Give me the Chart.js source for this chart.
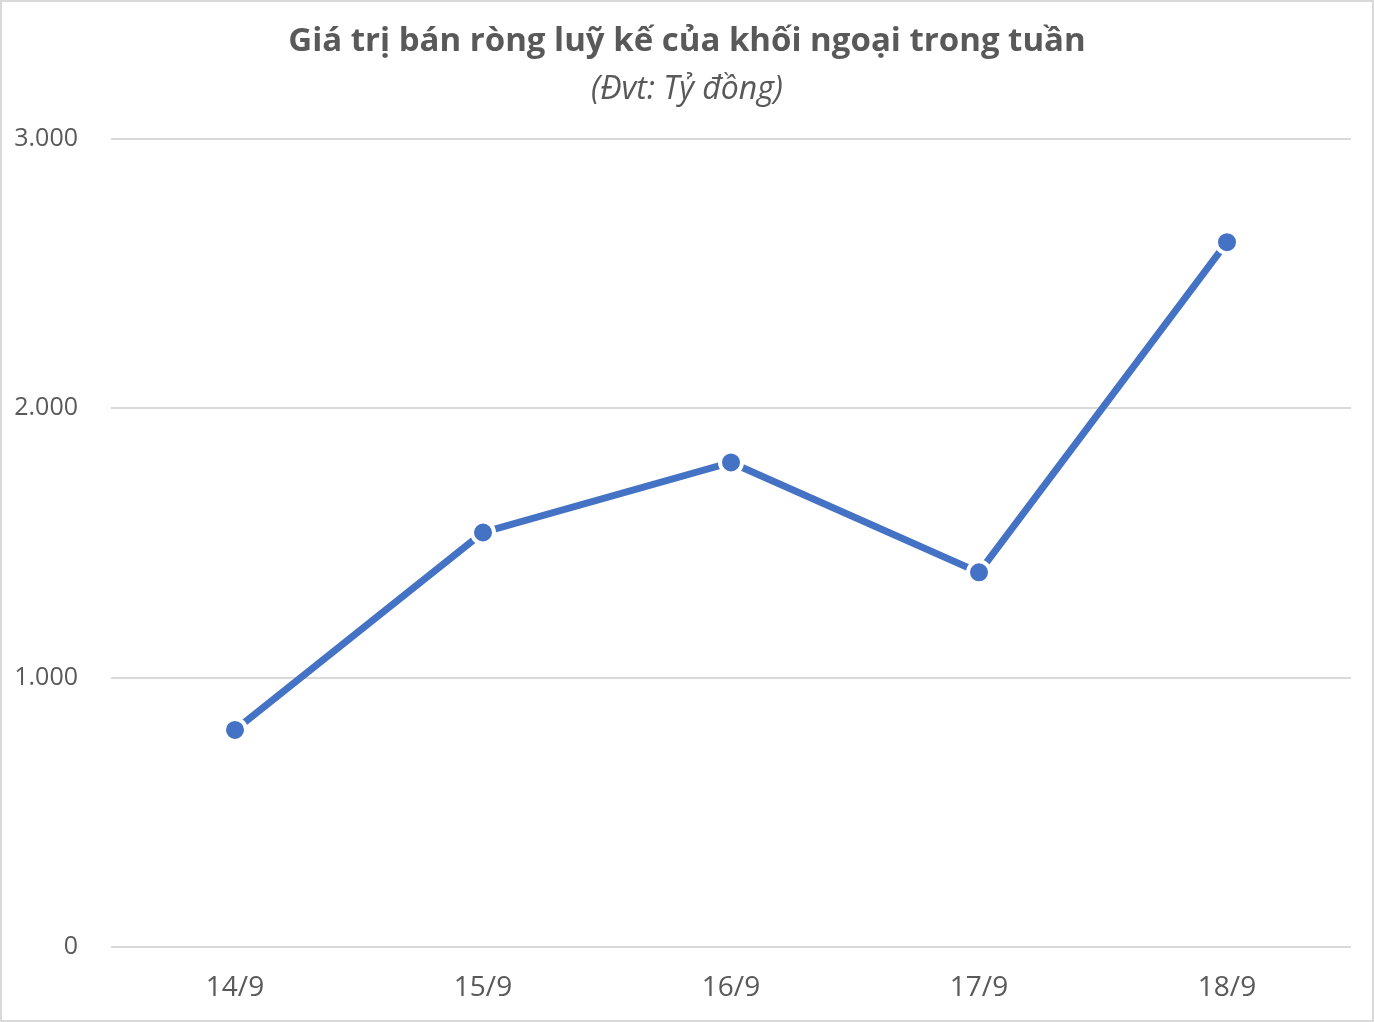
<!DOCTYPE html>
<html>
<head>
<meta charset="utf-8">
<script src="https://cdn.jsdelivr.net/npm/chart.js@4/dist/chart.umd.min.js"></script>
<style>
  html, body { margin: 0; padding: 0; background: #fff; }
  #frame {
    width: 1374px; height: 1022px; box-sizing: border-box;
    border: 2px solid #d9d9d9; background: #fff;
  }
  #frame canvas { display: block; }
</style>
</head>
<body>
<div id="frame">
  <canvas id="netSellChart" width="1370" height="1018"></canvas>
</div>
<script>
// data
const days = ["14/9", "15/9", "16/9", "17/9", "18/9"];
const netSellValues = [806, 1539, 1799, 1391, 2617];
const yTicks = [0, 1000, 2000, 3000];

const titleText = "Giá trị bán ròng luỹ kế của khối ngoại trong tuần";
const subtitleText = "(Đvt: Tỷ đồng)";

const textGrey = "#595959";
const lineBlue = "#4472C4";
const fontFamily = "'Open Sans', 'Noto Sans', sans-serif";

function formatThousands(v) {
  return v.toLocaleString("de-DE");
}

const ctx = document.getElementById("netSellChart").getContext("2d");

new Chart(ctx, {
  type: "line",
  data: {
    labels: days,
    datasets: [{
      data: netSellValues,
      borderColor: lineBlue,
      borderWidth: 7,
      backgroundColor: lineBlue,
      pointBackgroundColor: lineBlue,
      pointBorderColor: "#fff",
      pointBorderWidth: 4,
      pointRadius: 11,
      pointHoverRadius: 11,
      tension: 0,
      fill: false
    }]
  },
  options: {
    responsive: false,
    animation: false,
    events: [],
    layout: { padding: 0 },
    plugins: {
      legend: { display: false },
      tooltip: { enabled: false },
      title: {
        display: true,
        text: titleText,
        color: textGrey,
        font: { family: fontFamily, size: 33, weight: "bold" },
        padding: { top: 20, bottom: 9.2 }
      },
      subtitle: {
        display: true,
        text: subtitleText,
        color: textGrey,
        font: { family: fontFamily, size: 32, style: "italic" },
        padding: { top: 0, bottom: 29.8 }
      }
    },
    scales: {
      x: {
        offset: true,
        grid: { display: false, drawTicks: false },
        border: { display: false },
        ticks: {
          color: textGrey,
          font: { family: fontFamily, size: 28 },
          padding: 24,
          maxRotation: 0
        },
        afterFit: (scale) => { scale.height = 73; }
      },
      y: {
        min: 0,
        max: 3000,
        afterBuildTicks: (scale) => {
          scale.ticks = yTicks.map(v => ({ value: v }));
        },
        grid: { color: "#d9d9d9", lineWidth: 2, drawTicks: false },
        border: { display: false },
        ticks: {
          color: textGrey,
          font: { family: fontFamily, size: 25 },
          padding: 33,
          callback: (v) => formatThousands(v)
        },
        afterFit: (scale) => { scale.width = 109; }
      },
      // empty right axis, only reserves the right margin so the title stays centred
      yRight: {
        position: "right",
        min: 0,
        max: 1,
        grid: { display: false, drawTicks: false },
        border: { display: false },
        ticks: { display: false },
        afterFit: (scale) => { scale.width = 21; }
      }
    }
  }
});
</script>
</body>
</html>
